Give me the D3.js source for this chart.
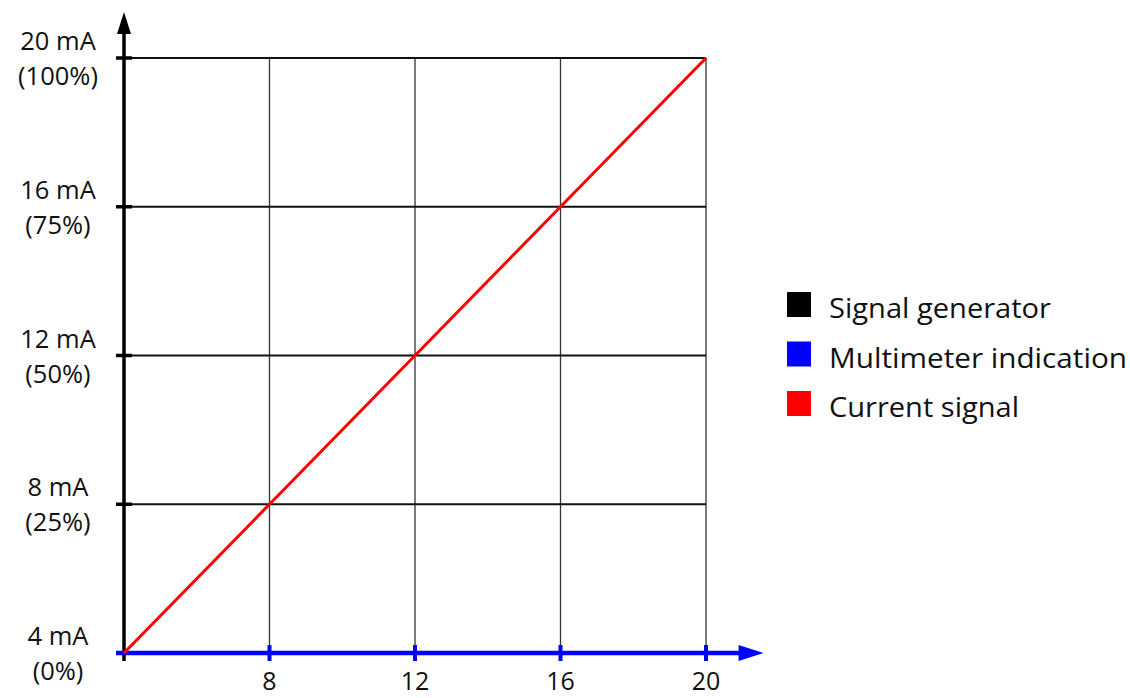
<!DOCTYPE html>
<html><head><meta charset="utf-8">
<script src="https://cdn.jsdelivr.net/npm/d3@7"></script>
<style>body{margin:0;background:#fff;}svg{display:block;font-family:"Open Sans",sans-serif;}</style>
</head><body>
<script>
const xTicks = [8, 12, 16, 20];
const yTicks = [4, 8, 12, 16, 20];
const yLabels = ["4 mA", "8 mA", "12 mA", "16 mA", "20 mA"];
const yPercents = ["(0%)", "(25%)", "(50%)", "(75%)", "(100%)"];
const currentX = [4, 8, 12, 16, 20];
const currentSignal = [4, 8, 12, 16, 20];
const multimeterX = [4, 20.95];
const multimeterValues = [4, 4];
const legendNames = ["Signal generator", "Multimeter indication", "Current signal"];
const legendColors = ["#000000", "#0000ff", "#ff0000"];

const W = 1130, H = 698;
const svg = d3.select("body").append("svg").attr("width", W).attr("height", H);
const x = d3.scaleLinear().domain([4, 20]).range([124, 706]);
const y = d3.scaleLinear().domain([4, 20]).range([653, 58]);

// vertical grid
svg.append("g").selectAll("line").data(xTicks).join("line")
  .attr("x1", d => x(d)).attr("x2", d => x(d))
  .attr("y1", y(20)).attr("y2", y(4))
  .attr("stroke", "#333").attr("stroke-width", 1.3);
// horizontal grid
svg.append("g").selectAll("line").data(yTicks.filter(d => d > 4)).join("line")
  .attr("x1", x(4)).attr("x2", x(20))
  .attr("y1", d => y(d)).attr("y2", d => y(d))
  .attr("stroke", "#111").attr("stroke-width", 2);

// y axis (black) with arrow
svg.append("line").attr("x1", x(4)).attr("x2", x(4))
  .attr("y1", y(4) + 8).attr("y2", 30)
  .attr("stroke", "#000").attr("stroke-width", 3.5);
svg.append("path").attr("d", `M${x(4)},12 L${x(4)-7},34 L${x(4)+7},34 Z`).attr("fill", "#000");
svg.append("g").selectAll("line").data(yTicks.filter(d => d > 4)).join("line")
  .attr("x1", x(4) - 8).attr("x2", x(4) + 8)
  .attr("y1", d => y(d)).attr("y2", d => y(d))
  .attr("stroke", "#000").attr("stroke-width", 3.5);

// x axis (blue multimeter) with arrow
svg.append("path").datum(multimeterX.map((v, i) => [v, multimeterValues[i]]))
  .attr("d", d => `M${x(d[0][0]) - 8},${y(d[0][1])} L${x(d[1][0])},${y(d[1][1])}`)
  .attr("stroke", "#0000ff").attr("stroke-width", 4.5).attr("fill", "none");
const ax = x(multimeterX[1]);
svg.append("path").attr("d", `M${ax + 23},${y(4)} L${ax - 2},${y(4)-8} L${ax - 2},${y(4)+8} Z`).attr("fill", "#0000ff");
svg.append("g").selectAll("line").data(xTicks).join("line")
  .attr("x1", d => x(d)).attr("x2", d => x(d))
  .attr("y1", y(4) - 8).attr("y2", y(4) + 8)
  .attr("stroke", "#0000ff").attr("stroke-width", 4);

// current signal (red)
const line = d3.line().x(d => x(d[0])).y(d => y(d[1]));
svg.append("path").datum(currentX.map((v, i) => [v, currentSignal[i]]))
  .attr("d", line).attr("stroke", "#ff0000").attr("stroke-width", 3).attr("fill", "none");

// y labels
const yl = svg.append("g").attr("font-size", 25.5).attr("fill", "#111").attr("text-anchor", "middle");
yl.selectAll("text.a").data(yTicks).join("text").attr("class", "a")
  .attr("x", 58).attr("y", d => y(d) - 8).text((d, i) => yLabels[i]);
yl.selectAll("text.b").data(yTicks).join("text").attr("class", "b")
  .attr("x", 58).attr("y", d => y(d) + 27).text((d, i) => yPercents[i]);

// x labels
svg.append("g").attr("font-size", 25).attr("fill", "#111").attr("text-anchor", "middle")
  .selectAll("text").data(xTicks).join("text")
  .attr("x", d => x(d)).attr("y", 690).text(d => d);

// legend
const lg = svg.append("g").selectAll("g").data(legendNames).join("g")
  .attr("transform", (d, i) => `translate(787,${292 + i * 49.5})`);
lg.append("rect").attr("width", 24).attr("height", 25).attr("fill", (d, i) => legendColors[i]);
lg.append("text").attr("x", 42).attr("y", 26).attr("font-size", 27).attr("fill", "#111")
  .attr("textLength", (d, i) => [222, 298, 190][i]).attr("lengthAdjust", "spacingAndGlyphs").text(d => d);
</script>
</body></html>
